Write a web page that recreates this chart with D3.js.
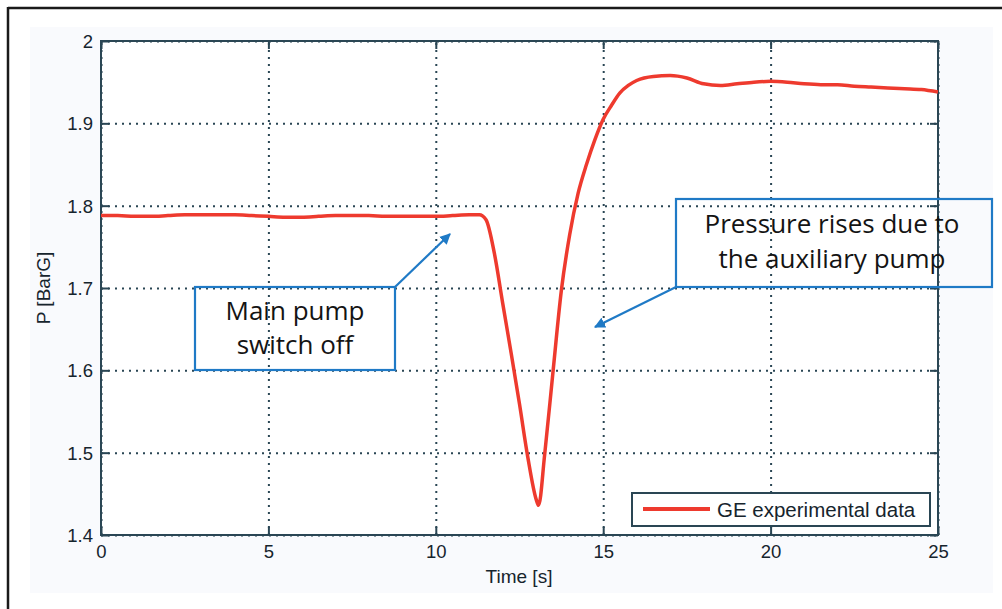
<!DOCTYPE html>
<html>
<head>
<meta charset="utf-8">
<script src="https://cdn.jsdelivr.net/npm/d3@7"></script>
<style>
  html, body { margin: 0; padding: 0; background: #ffffff; }
  svg { display: block; }
</style>
</head>
<body>
<svg id="chart" width="1002" height="609"></svg>
<script>
// ---------------- data ----------------
const timeS = [0, 0.5, 1, 1.5, 2, 2.5, 3, 3.5, 4, 4.5, 5, 5.5, 6, 6.5, 7, 7.5, 8, 8.5, 9, 9.5,
  10, 10.5, 11, 11.3, 11.5, 11.75, 12, 12.25, 12.5, 12.75, 13, 13.07, 13.25, 13.5, 13.75, 14,
  14.25, 14.5, 14.75, 15, 15.25, 15.5, 15.75, 16, 16.5, 17, 17.5, 18, 18.5, 19, 19.5, 20,
  20.5, 21, 21.5, 22, 22.5, 23, 23.5, 24, 24.5, 25];
const pressureBarG = [1.788, 1.788, 1.787, 1.787, 1.788, 1.789, 1.789, 1.789, 1.789, 1.788,
  1.787, 1.786, 1.786, 1.787, 1.788, 1.788, 1.788, 1.787, 1.787, 1.787,
  1.787, 1.788, 1.789, 1.789, 1.783, 1.742, 1.681, 1.621, 1.559, 1.494, 1.443, 1.436, 1.497,
  1.598, 1.697, 1.765, 1.815, 1.850, 1.880, 1.905, 1.922, 1.937, 1.946, 1.952, 1.957, 1.958,
  1.955, 1.948, 1.946, 1.948, 1.950, 1.951, 1.950, 1.948, 1.947, 1.947, 1.945, 1.944, 1.943,
  1.942, 1.941, 1.938];
const xTicks = [0, 5, 10, 15, 20, 25];
const xTickLabels = ["0", "5", "10", "15", "20", "25"];
const yTicks = [1.4, 1.5, 1.6, 1.7, 1.8, 1.9, 2.0];
const yTickLabels = ["1.4", "1.5", "1.6", "1.7", "1.8", "1.9", "2"];
const seriesName = "GE experimental data";
const xTitle = "Time [s]";
const yTitle = "P [BarG]";
const note1Lines = ["Main pump", "switch off"];
const note2Lines = ["Pressure rises due to", "the auxiliary pump"];

// ---------------- layout ----------------
const svg = d3.select("#chart");
const L = 101, R = 938, T = 41, B = 535;
const x = d3.scaleLinear().domain([0, 25]).range([L, R]);
const y = d3.scaleLinear().domain([1.4, 2.0]).range([B, T]);
const axisCol = "#2a4654";
const textCol = "#16242d";
const red = "#ee3a2e";
const blue = "#1f7ac6";

// page background panel
svg.append("rect").attr("x", 30).attr("y", 27).attr("width", 963).attr("height", 566).attr("fill", "#f9fafd");
// outer frame (top + left)
svg.append("line").attr("x1", 8).attr("x2", 1002).attr("y1", 8).attr("y2", 8).attr("stroke", "#1a1a1a").attr("stroke-width", 2.5);
svg.append("line").attr("x1", 8).attr("x2", 8).attr("y1", 7).attr("y2", 609).attr("stroke", "#1a1a1a").attr("stroke-width", 2.5);

// plot area
svg.append("rect").attr("x", L).attr("y", T).attr("width", R - L).attr("height", B - T).attr("fill", "#ffffff");

// grids
const gridX = svg.append("g").attr("transform", `translate(0,${B})`)
  .call(d3.axisBottom(x).tickValues(xTicks).tickSize(-(B - T)).tickFormat(""));
const gridY = svg.append("g").attr("transform", `translate(${L},0)`)
  .call(d3.axisLeft(y).tickValues(yTicks).tickSize(-(R - L)).tickFormat(""));
[gridX, gridY].forEach(g => {
  g.select(".domain").remove();
  g.selectAll("line").attr("stroke", axisCol).attr("stroke-width", 2)
    .attr("stroke-dasharray", "2,5").attr("stroke-linecap", "butt");
});

// axes with inward ticks
const tickLen = 8;
const axB = svg.append("g").attr("transform", `translate(0,${B})`)
  .call(d3.axisBottom(x).tickValues(xTicks).tickSize(-tickLen).tickPadding(10)
    .tickFormat((d, i) => xTickLabels[i]));
const axT = svg.append("g").attr("transform", `translate(0,${T})`)
  .call(d3.axisTop(x).tickValues(xTicks).tickSize(-tickLen).tickFormat(""));
const axL = svg.append("g").attr("transform", `translate(${L},0)`)
  .call(d3.axisLeft(y).tickValues(yTicks).tickSize(-tickLen).tickPadding(8)
    .tickFormat((d, i) => yTickLabels[i]));
const axR = svg.append("g").attr("transform", `translate(${R},0)`)
  .call(d3.axisRight(y).tickValues(yTicks).tickSize(-tickLen).tickFormat(""));
[axB, axT, axL, axR].forEach(g => {
  g.select(".domain").remove();
  g.selectAll("line").attr("stroke", axisCol).attr("stroke-width", 2);
  g.selectAll("text").attr("fill", textCol).style("font-family", "'Liberation Sans', Arial, sans-serif")
    .style("font-size", "18.5px");
});
axB.selectAll("text").attr("dy", "0.71em");
axL.selectAll("text").attr("dy", "0.35em");

// axis box
svg.append("rect").attr("x", L).attr("y", T).attr("width", R - L).attr("height", B - T)
  .attr("fill", "none").attr("stroke", axisCol).attr("stroke-width", 2);

// axis titles
svg.append("text").attr("x", 519).attr("y", 583).attr("text-anchor", "middle")
  .attr("fill", textCol).style("font-family", "'Liberation Sans', Arial, sans-serif").style("font-size", "19px")
  .text(xTitle);
svg.append("text").attr("transform", "translate(50,288) rotate(-90)").attr("text-anchor", "middle")
  .attr("fill", textCol).style("font-family", "'Liberation Sans', Arial, sans-serif").style("font-size", "19px")
  .text(yTitle);

// data line
const pts = timeS.map((t, i) => [t, pressureBarG[i]]);
const line = d3.line().x(d => x(d[0])).y(d => y(d[1])).curve(d3.curveMonotoneX);
svg.append("path").datum(pts).attr("d", line).attr("fill", "none")
  .attr("stroke", red).attr("stroke-width", 3.5).attr("stroke-linejoin", "round");

// legend
const lg = svg.append("g");
lg.append("rect").attr("x", 632).attr("y", 493).attr("width", 298).attr("height", 33)
  .attr("fill", "#ffffff").attr("stroke", axisCol).attr("stroke-width", 2);
lg.append("line").attr("x1", 643).attr("x2", 710).attr("y1", 509).attr("y2", 509)
  .attr("stroke", red).attr("stroke-width", 4);
lg.append("text").attr("x", 717).attr("y", 517).attr("fill", textCol)
  .style("font-family", "'Liberation Sans', Arial, sans-serif").style("font-size", "20.5px")
  .text(seriesName);

// annotations
const defs = svg.append("defs");
defs.append("marker").attr("id", "ah").attr("viewBox", "0 0 10 10").attr("refX", 9).attr("refY", 5)
  .attr("markerWidth", 5).attr("markerHeight", 5).attr("markerUnits", "strokeWidth").attr("orient", "auto")
  .append("path").attr("d", "M0,0 L10,5 L0,10 z").attr("fill", blue);

function note(bx, by, bw, bh, lines, cx, baselines, ax1, ay1, ax2, ay2) {
  const g = svg.append("g");
  g.append("rect").attr("x", bx).attr("y", by).attr("width", bw).attr("height", bh)
    .attr("fill", "none").attr("stroke", blue).attr("stroke-width", 2.2);
  lines.forEach((s, i) => {
    g.append("text").attr("x", cx).attr("y", baselines[i]).attr("text-anchor", "middle")
      .attr("fill", "#141414").style("font-family", "'Open Sans', sans-serif").style("font-size", "26px")
      .text(s);
  });
  g.append("line").attr("x1", ax1).attr("y1", ay1).attr("x2", ax2).attr("y2", ay2)
    .attr("stroke", blue).attr("stroke-width", 2.2).attr("marker-end", "url(#ah)");
}
note(195, 287, 200, 83, note1Lines, 295, [320, 354], 395, 287, 450, 234);
note(676, 199, 316, 88, note2Lines, 832, [233, 268], 676, 287, 595, 327);
</script>
</body>
</html>
